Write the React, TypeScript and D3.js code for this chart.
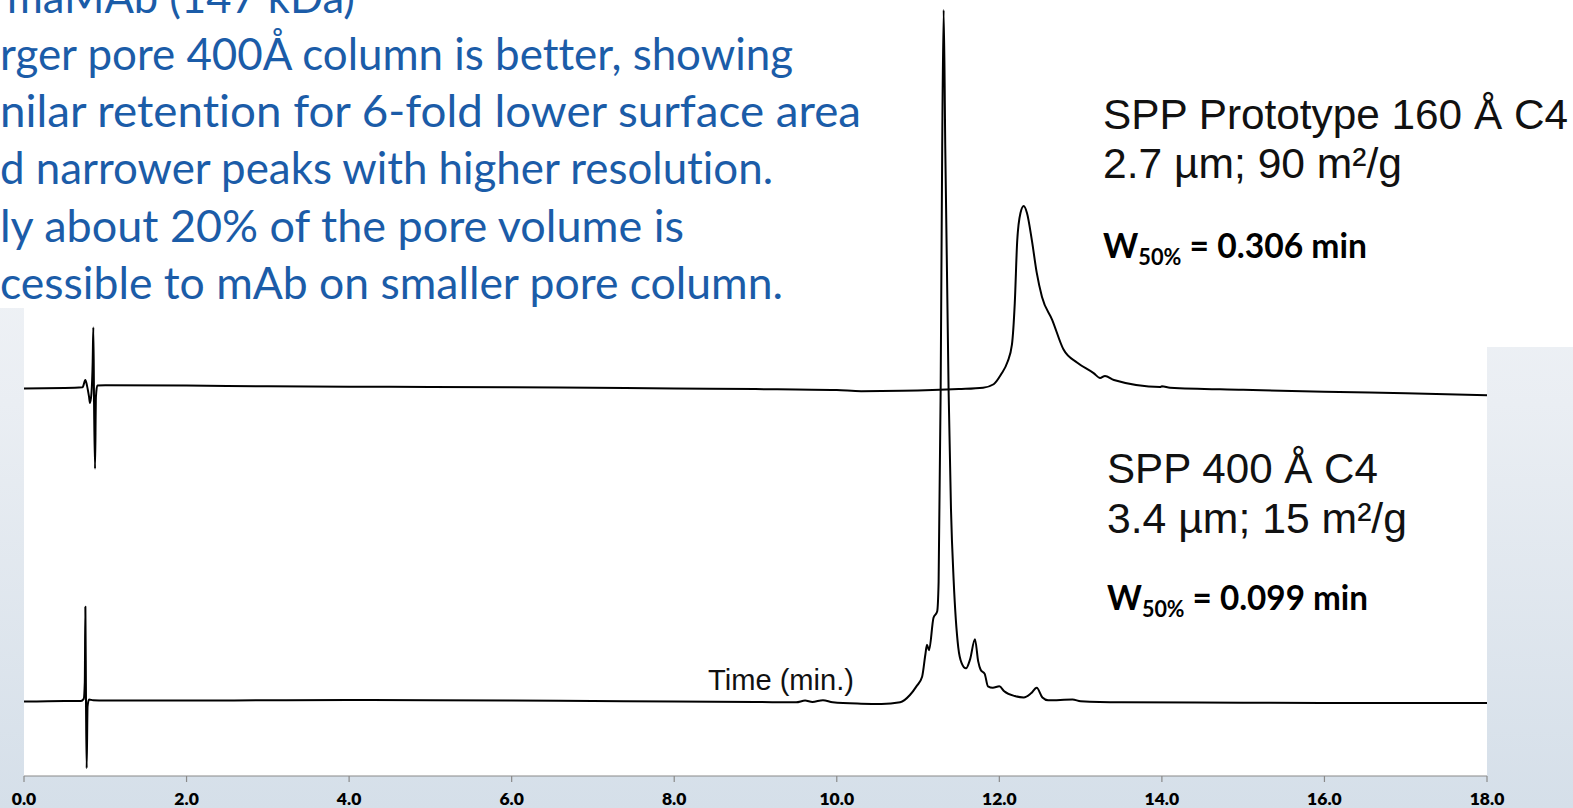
import React from "react";
import * as d3 from "d3";

// ---- Data (time in min, signal in relative absorbance units) ----
const xTicks = [0, 2, 4, 6, 8, 10, 12, 14, 16, 18];

// SPP 400 Å C4 (lower trace)
const lowerTrace: [number, number][] = [
  [0, 0.2], [0.5, 0.3], [0.7, 0.3], [0.735, 0.6], [0.748, 3], [0.755, 13.9], [0.763, 0],
  [0.771, -9.4], [0.782, -0.5], [0.8, 0.5], [0.85, 0.4], [1, 0.35], [2, 0.35], [3, 0.4],
  [4, 0.45], [5, 0.4], [6, 0.35], [7, 0.3], [8, 0.2], [9, 0.15], [9.5, 0.1], [9.61, 0.35],
  [9.7, 0.15], [9.83, 0.4], [9.95, 0.1], [10.3, -0.1], [10.55, -0.15], [10.78, 0.1],
  [10.9, 1.15], [10.98, 2.4], [11.05, 3.8], [11.09, 7.0], [11.11, 8.4], [11.135, 7.6],
  [11.19, 12.3], [11.235, 13.2], [11.253, 17.5], [11.278, 45], [11.297, 80], [11.315, 100],
  [11.335, 80], [11.376, 45], [11.405, 28], [11.438, 17.7], [11.495, 8.0], [11.535, 5.8],
  [11.59, 5.0], [11.64, 6.3], [11.7, 9.2], [11.74, 6.0], [11.77, 4.8], [11.82, 4.2],
  [11.86, 2.4], [11.92, 2.2], [12.0, 2.4], [12.06, 1.7], [12.19, 1.0], [12.3, 0.8],
  [12.39, 1.4], [12.46, 2.2], [12.53, 0.8], [12.6, 0.4], [12.9, 0.5], [13.0, 0.25],
  [13.5, 0.1], [15, 0.05], [16.5, 0.0], [18, 0.0],
];

// SPP Prototype 160 Å C4 (upper trace)
const upperTrace: [number, number][] = [
  [0, 0.2], [0.5, 0.25], [0.72, 0.35], [0.755, 1.4], [0.775, 0.6], [0.8, -1.0], [0.812, -1.9],
  [0.83, -0.5], [0.845, 4], [0.853, 9.0], [0.862, -2], [0.874, -11.4], [0.885, -1],
  [0.902, 0.6], [1, 0.65], [2, 0.6], [3, 0.5], [4, 0.45], [5, 0.4], [6, 0.35], [7, 0.3],
  [8, 0.2], [9, 0.1], [10, -0.05], [10.3, -0.2], [10.8, -0.15], [11.5, 0.1], [11.8, 0.3],
  [11.93, 0.8], [12.02, 2.2], [12.1, 4.0], [12.155, 6.5], [12.19, 12.5], [12.22, 21.5],
  [12.26, 25.5], [12.3, 26.5], [12.34, 25.5], [12.4, 21.6], [12.46, 16.9], [12.525, 13.4],
  [12.65, 10.1], [12.79, 5.8], [12.96, 3.9], [13.16, 2.4], [13.24, 1.7], [13.3, 2.0],
  [13.41, 1.4], [13.98, 0.4], [14.0, 0.5], [14.1, 0.3], [15, 0.0], [16, -0.3], [17, -0.5],
  [18, -0.8],
];

const notesLines = [
  "maMAb  (147 kDa)",
  "rger pore 400Å column is better, showing",
  "nilar retention for 6-fold lower surface area",
  "d narrower peaks with higher resolution.",
  "ly about 20% of the pore volume is",
  "cessible to mAb on smaller pore column.",
];

const W = 1573;
const H = 808;

export default function App() {
  const x = d3.scaleLinear().domain([0, 18]).range([24, 1487]);
  const y = d3.scaleLinear().domain([0, 100]).range([703, 10]);
  const upperOffset = 45.2;

  const line = d3
    .line<[number, number]>()
    .x((d) => x(d[0]))
    .y((d) => y(d[1]))
    .curve(d3.curveMonotoneX);
  const lineUp = d3
    .line<[number, number]>()
    .x((d) => x(d[0]))
    .y((d) => y(d[1] + upperOffset))
    .curve(d3.curveMonotoneX);

  const axisY = 776;
  const noteRights = [355, 793, 861, 773, 684, 783];
  const noteBase = [13, 70, 127, 184, 242, 299];
  const noteLeft = [7, 0, 0, 0, 0, 0];

  return (
    <svg
      width={W}
      height={H}
      style={{ position: "absolute", left: 0, top: 0, display: "block" }}
    >
      <defs>
        <linearGradient id="bg" x1="0" y1="0" x2="0" y2="1">
          <stop offset="0" stopColor="#f8f9fb" />
          <stop offset="0.5" stopColor="#eaeef3" />
          <stop offset="1" stopColor="#d5dfe9" />
        </linearGradient>
      </defs>
      <rect x={0} y={0} width={W} height={H} fill="url(#bg)" />
      <rect x={0} y={0} width={880} height={308} fill="#ffffff" />
      <rect x={1090} y={0} width={W - 1090} height={347} fill="#ffffff" />
      <rect x={24} y={0} width={1463} height={axisY} fill="#ffffff" />

      {/* notes */}
      {notesLines.map((t, i) => (
        <text
          key={i}
          x={noteLeft[i]}
          y={noteBase[i]}
          fontFamily="Lato, 'Open Sans', sans-serif"
          fontSize={45}
          fill="#1b5ca8"
          style={{ fontVariantLigatures: "none" }}
          textLength={noteRights[i] - noteLeft[i]}
          lengthAdjust="spacingAndGlyphs"
        >
          {t}
        </text>
      ))}

      {/* traces */}
      <path d={line(lowerTrace) ?? ""} fill="none" stroke="#000" strokeWidth={2} strokeLinejoin="round" />
      <path d={lineUp(upperTrace) ?? ""} fill="none" stroke="#000" strokeWidth={2} strokeLinejoin="round" />

      {/* axis */}
      <line x1={x(0)} x2={x(18)} y1={axisY} y2={axisY} stroke="#8a8a8a" strokeWidth={1.2} />
      {xTicks.map((t) => (
        <g key={t}>
          <line x1={x(t)} x2={x(t)} y1={axisY} y2={axisY + 6} stroke="#8a8a8a" strokeWidth={1.2} />
          <text
            x={x(t)}
            y={805}
            textAnchor="middle"
            fontFamily="Lato, sans-serif"
            fontWeight={800}
            fontSize={17.5}
            fill="#000"
          >
            {d3.format(".1f")(t)}
          </text>
        </g>
      ))}
      <text x={708} y={690} fontFamily="'Liberation Sans', Arial, sans-serif" fontSize={29} fill="#111"
        textLength={146} lengthAdjust="spacingAndGlyphs">
        Time (min.)
      </text>

      {/* labels */}
      <g fontFamily="'Liberation Sans', Arial, sans-serif" fontSize={42} fill="#111">
        <text x={1103} y={129} textLength={465} lengthAdjust="spacingAndGlyphs">SPP Prototype 160 Å C4</text>
        <text x={1103} y={178} textLength={299} lengthAdjust="spacingAndGlyphs">2.7 µm; 90 m²/g</text>
        <text x={1107} y={483} textLength={271} lengthAdjust="spacingAndGlyphs">SPP 400 Å C4</text>
        <text x={1107} y={533} textLength={300} lengthAdjust="spacingAndGlyphs">3.4 µm; 15 m²/g</text>
      </g>
      <g fontFamily="Lato, sans-serif" fontWeight={700} fill="#000">
        <text x={1103} y={258} fontSize={34} textLength={264} lengthAdjust="spacingAndGlyphs">
          W<tspan fontSize={22} dy={7}>50%</tspan><tspan dy={-7}> = 0.306 min</tspan>
        </text>
        <text x={1107} y={610} fontSize={34} textLength={261} lengthAdjust="spacingAndGlyphs">
          W<tspan fontSize={22} dy={7}>50%</tspan><tspan dy={-7}> = 0.099 min</tspan>
        </text>
      </g>
    </svg>
  );
}
